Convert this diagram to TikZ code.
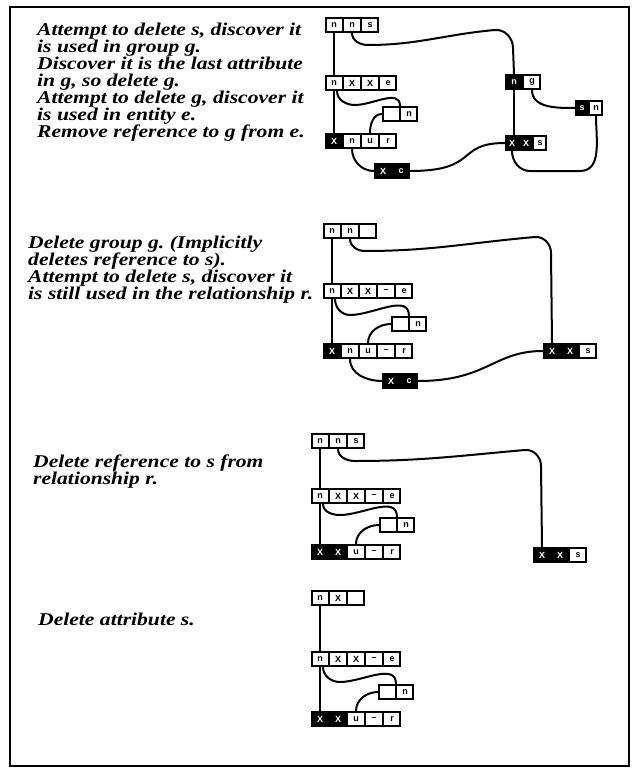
\documentclass[tikz,border=0pt]{standalone}
\usepackage{fontspec}
\setmainfont{Liberation Serif}
\setsansfont{Liberation Sans}
\newfontfamily\notefont[FakeStretch=1.2]{Liberation Serif}
\usepackage{tikz}
\usetikzlibrary{positioning}
\usetikzlibrary{shapes.multipart}
\frenchspacing
\newcommand{\inv}[1]{\textcolor{white}{#1}}
\tikzset{
rec/.style={
rectangle split,
rectangle split horizontal,
rectangle split parts=#1,
draw,
line width=2pt,
inner xsep=2pt,
inner ysep=0pt,
text width=12pt,
align=center,
minimum height=14pt,
anchor=north west,
font=\fontsize{9}{9}\selectfont\sffamily\bfseries
},
wire/.style={line width=2pt, line cap=round},
note/.style={anchor=north west, align=left, inner sep=0pt,
font=\notefont\fontsize{18}{17}\selectfont\bfseries\itshape}
}

\begin{document}
\begin{tikzpicture}[x=1pt, y=1pt]

\useasboundingbox (0,0) rectangle (634,-773);
\draw[line width=2.5pt] (10,-7) rectangle (629,-766);

\node[note] (t1) at (37,-23) {Attempt to delete s, discover it\\is used in group g.\\Discover it is the last attribute\\in g, so delete g.\\Attempt to delete g, discover it\\is used in entity e.\\Remove reference to g from e.};
\node[note] (t2) at (28,-236) {Delete group g. (Implicitly\\deletes reference to s).\\Attempt to delete s, discover it\\is still used in the relationship r.};
\node[note] (t3) at (33,-455) {Delete reference to s from\\relationship r.};
\node[note] (t4) at (38,-613) {Delete attribute s.};

\node[rec=3] (a1) at (325,-17) {n\nodepart{two}n\nodepart{three}s};
\node[rec=4] (b1) at (325,-75) {n\nodepart{two}X\nodepart{three}X\nodepart{four}e};
\node[rec=2] (c1) at (382,-106) {\phantom{n}\nodepart{two}n};
\node[rec=4, rectangle split part fill={black,white,white,white}] (d1) at (325,-133) {\inv{X}\nodepart{two}n\nodepart{three}u\nodepart{four}r};
\node[rec=2, fill=black] (e1) at (374,-163) {\inv{X}\nodepart{two}\inv{c}};
\node[rec=2, rectangle split part fill={black,white}] (f1) at (505,-74) {\inv{n}\nodepart{two}g};
\node[rec=2, text width=8pt, rectangle split part fill={black,white}] (g1) at (575,-100) {\inv{s}\nodepart{two}n};
\node[rec=3, text width=8pt, rectangle split part fill={black,black,white}] (h1) at (505,-135) {\inv{X}\nodepart{two}\inv{X}\nodepart{three}s};

\draw[wire] (a1.one south) -- (b1.one north);
\draw[wire] (b1.one south) -- (d1.one north);
\draw[wire] (a1.two south) to[out=-90,in=180] (368,-45) to[out=0,in=185] (495,-30) to[out=5,in=90] (513,-48) -- (f1.one north);
\draw[wire] (f1.one south) -- (f1.one south |- h1.north);
\draw[wire] (h1.one south) to[out=-90,in=180] (530,-171) -- (580,-171) to[out=0,in=-90] (g1.two south);
\draw[wire] (f1.two south) to[out=-90,in=180] (g1.west);
\draw[wire] ([xshift=3pt]b1.one south) to[out=-90,in=180] (355,-105) to[out=0,in=90] (c1.north);
\draw[wire] (c1.west) to[out=180,in=90] (d1.three north);
\draw[wire] (d1.two south) to[out=-90,in=180] (e1.west);
\draw[wire] (e1.east) .. controls +(70,0) and +(-50,0) .. (h1.west);

\node[rec=3] (a2) at (323,-223) {n\nodepart{two}n\nodepart{three}\phantom{n}};
\node[rec=5] (b2) at (323,-283) {n\nodepart{two}X\nodepart{three}X\nodepart{four}--\nodepart{five}e};
\node[rec=2] (c2) at (391,-316) {\phantom{n}\nodepart{two}n};
\node[rec=5, rectangle split part fill={black,white,white,white,white}] (d2) at (323,-343) {\inv{X}\nodepart{two}n\nodepart{three}u\nodepart{four}--\nodepart{five}r};
\node[rec=2, fill=black] (e2) at (382,-373) {\inv{X}\nodepart{two}\inv{c}};
\node[rec=3, rectangle split part fill={black,black,white}] (f2) at (543,-343) {\inv{X}\nodepart{two}\inv{X}\nodepart{three}s};

\draw[wire] (a2.one south) -- (b2.one north);
\draw[wire] (b2.one south) -- (d2.one north);
\draw[wire] (a2.two south) to[out=-90,in=180] (365,-251) to[out=0,in=185] (535,-237) to[out=5,in=90] (551,-253) -- (f2.one north);
\draw[wire] ([xshift=3pt]b2.one south) to[out=-90,in=180] (350,-315) to[out=0,in=90] (c2.north);
\draw[wire] (c2.west) to[out=180,in=90] (d2.three north);
\draw[wire] (d2.two south) to[out=-90,in=180] (e2.west);
\draw[wire] (e2.east) .. controls +(70,0) and +(-50,0) .. (f2.west);

\node[rec=3] (a3) at (311,-433) {n\nodepart{two}n\nodepart{three}s};
\node[rec=5] (b3) at (311,-488) {n\nodepart{two}X\nodepart{three}X\nodepart{four}--\nodepart{five}e};
\node[rec=2] (c3) at (379,-517) {\phantom{n}\nodepart{two}n};
\node[rec=5, rectangle split part fill={black,black,white,white,white}] (d3) at (311,-544) {\inv{X}\nodepart{two}\inv{X}\nodepart{three}u\nodepart{four}--\nodepart{five}r};
\node[rec=3, rectangle split part fill={black,black,white}] (f3) at (533,-547) {\inv{X}\nodepart{two}\inv{X}\nodepart{three}s};

\draw[wire] (a3.one south) -- (b3.one north);
\draw[wire] (b3.one south) -- (d3.one north);
\draw[wire] (a3.two south) to[out=-90,in=180] (355,-461) to[out=0,in=185] (525,-450) to[out=5,in=90] (541,-466) -- (f3.one north);
\draw[wire] ([xshift=3pt]b3.one south) to[out=-90,in=180] (340,-515) to[out=0,in=90] (c3.north);
\draw[wire] (c3.west) to[out=180,in=90] (d3.three north);

\node[rec=3] (a4) at (311,-590) {n\nodepart{two}X\nodepart{three}\phantom{n}};
\node[rec=5] (b4) at (311,-651) {n\nodepart{two}X\nodepart{three}X\nodepart{four}--\nodepart{five}e};
\node[rec=2] (c4) at (378,-684) {\phantom{n}\nodepart{two}n};
\node[rec=5, rectangle split part fill={black,black,white,white,white}] (d4) at (311,-711) {\inv{X}\nodepart{two}\inv{X}\nodepart{three}u\nodepart{four}--\nodepart{five}r};

\draw[wire] (a4.one south) -- (b4.one north);
\draw[wire] (b4.one south) -- (d4.one north);
\draw[wire] ([xshift=3pt]b4.one south) to[out=-90,in=180] (340,-682) to[out=0,in=90] (c4.north);
\draw[wire] (c4.west) to[out=180,in=90] (d4.three north);

\end{tikzpicture}
\end{document}
